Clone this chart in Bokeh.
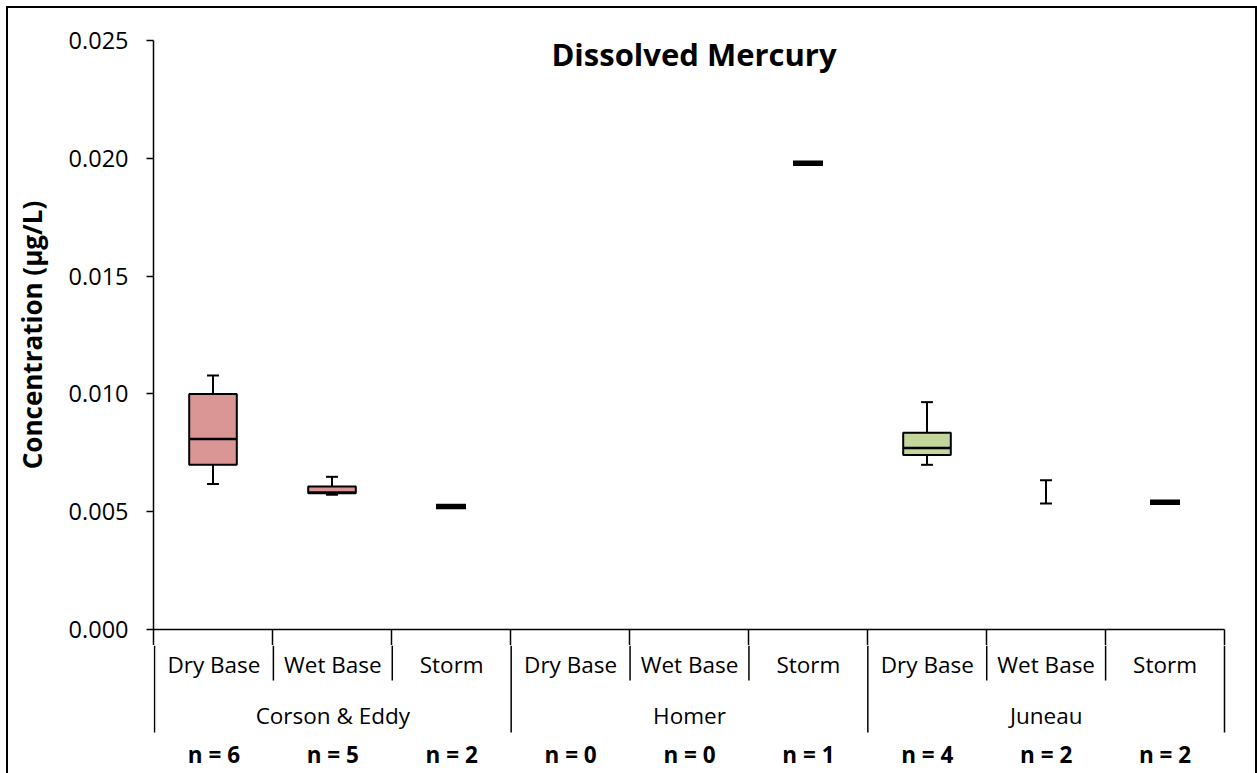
import math
from bokeh.plotting import figure
from bokeh.layouts import column
from bokeh.models import Range1d, FixedTicker, PrintfTickFormatter, LinearAxis, Label
from bokeh.core.properties import value
from bokeh.embed import file_html
from bokeh.resources import INLINE

# ---------------- data ----------------
groups = ["Corson & Eddy", "Homer", "Juneau"]
subcats = ["Dry Base", "Wet Base", "Storm"]
n_counts = [6, 5, 2, 0, 0, 1, 4, 2, 2]

# box statistics per category (None = not shown)
q1 = [0.00699, 0.00578, None, None, None, None, 0.00741, None, None]
median = [0.00809, 0.00582, None, None, None, None, 0.00770, None, None]
q3 = [0.01000, 0.00607, None, None, None, None, 0.00835, None, None]
wmin = [0.00618, 0.00572, None, None, None, None, 0.00699, 0.00535, None]
wmax = [0.01078, 0.00648, None, None, None, None, 0.00965, 0.00634, None]
single = [None, None, 0.00522, None, None, 0.01979, None, None, 0.00540]
box_colors = ["#D99694", "#D99694", None, None, None, None, "#C3D69B", None, None]

y_ticks = [0.0, 0.005, 0.010, 0.015, 0.020, 0.025]
y_max = 0.025

# ---------------- layout constants ----------------
PX_PER_UNIT = 589 / y_max      # vertical scale (pixels per concentration unit)
PX_PER_CAT = 119               # horizontal pixels per category
FONT = "Open Sans"
W = 1247
EXTRA = 16                     # frame pixels below zero and above the top tick

ncat = len(n_counts)
cats = [(g, s) for g in groups for s in subcats]
xc = [i + 0.5 for i in range(ncat)]
x_end = ncat + 2 / PX_PER_CAT
y_start = -EXTRA / PX_PER_UNIT
y_end = y_max + EXTRA / PX_PER_UNIT

# ---------------- main plot (data area) ----------------
p = figure(width=W, height=637, output_backend="svg", toolbar_location=None,
           x_range=Range1d(0, x_end),
           y_range=Range1d(y_start, y_end),
           x_axis_location=None, y_axis_location=None,
           min_border_left=145, min_border_right=29, min_border_top=16, min_border_bottom=0)
p.outline_line_color = None
p.grid.visible = False

yaxis = LinearAxis(ticker=FixedTicker(ticks=y_ticks),
                   formatter=PrintfTickFormatter(format="%.3f"),
                   bounds=(y_start, y_max))
yaxis.axis_line_color = "black"
yaxis.axis_line_width = 1.5
yaxis.major_tick_line_color = "black"
yaxis.major_tick_line_width = 1.5
yaxis.major_tick_out = 7
yaxis.major_tick_in = 0
yaxis.minor_tick_line_color = None
yaxis.major_label_standoff = 18
yaxis.major_label_text_font = FONT
yaxis.major_label_text_font_size = "23.5px"
yaxis.major_label_text_color = "black"
yaxis.axis_label = "Concentration (µg/L)"
yaxis.axis_label_text_font = FONT
yaxis.axis_label_text_font_size = "26px"
yaxis.axis_label_text_font_style = "bold"
yaxis.axis_label_text_color = "black"
yaxis.axis_label_standoff = 16
p.add_layout(yaxis, "left")

# x axis line and the top of the separators
p.segment(x0=[0], y0=[0], x1=[ncat], y1=[0], line_color="black", line_width=1.5)
sep_x = list(range(1, ncat + 1))
p.segment(x0=sep_x, y0=[0] * len(sep_x), x1=sep_x, y1=[y_start] * len(sep_x),
          line_color="black", line_width=1.5)

# boxes
bi = [i for i in range(ncat) if q1[i] is not None]
p.vbar(x=[xc[i] for i in bi], width=0.40, top=[q3[i] for i in bi], bottom=[q1[i] for i in bi],
       fill_color=[box_colors[i] for i in bi], line_color="black", line_width=2)
p.segment(x0=[xc[i] - 0.2 for i in bi], y0=[median[i] for i in bi],
          x1=[xc[i] + 0.2 for i in bi], y1=[median[i] for i in bi],
          line_color="black", line_width=2.5)

# whiskers
wi = [i for i in range(ncat) if wmin[i] is not None]
lo_end = [q1[i] if q1[i] is not None else wmax[i] for i in wi]
hi_start = [q3[i] if q3[i] is not None else wmax[i] for i in wi]
p.segment(x0=[xc[i] for i in wi], y0=[wmin[i] for i in wi],
          x1=[xc[i] for i in wi], y1=lo_end, line_color="black", line_width=2)
p.segment(x0=[xc[i] for i in wi], y0=hi_start,
          x1=[xc[i] for i in wi], y1=[wmax[i] for i in wi], line_color="black", line_width=2)
for arr in (wmin, wmax):
    p.segment(x0=[xc[i] - 0.05 for i in wi], y0=[arr[i] for i in wi],
              x1=[xc[i] + 0.05 for i in wi], y1=[arr[i] for i in wi],
              line_color="black", line_width=2)

# single-value markers
si = [i for i in range(ncat) if single[i] is not None]
p.rect(x=[xc[i] for i in si], y=[single[i] for i in si], width=0.252, height=5.5,
       height_units="screen", fill_color="black", line_color=None)

# chart title
p.add_layout(Label(x=(693.5 - 153) / PX_PER_CAT, y=(629 - 53) / PX_PER_UNIT,
                   text="Dissolved Mercury", text_font=FONT, text_font_size="31px",
                   text_font_style="bold", text_align="center", text_baseline="middle",
                   text_color="black"))

# ---------------- category strip below the axis ----------------
H2 = 128
q = figure(width=W, height=H2, output_backend="svg", toolbar_location=None, title=None,
           x_range=Range1d(-1 / PX_PER_CAT, x_end), y_range=Range1d(H2, 0),
           x_axis_location=None, y_axis_location=None,
           min_border_left=144, min_border_right=29, min_border_top=0, min_border_bottom=0)
q.outline_line_color = None
q.grid.visible = False

grp_x = [0, 3, 6, 9]
q.segment(x0=grp_x, y0=[0] * len(grp_x), x1=grp_x, y1=[87] * len(grp_x),
          line_color="black", line_width=1.5)
sub_x = [1, 2, 4, 5, 7, 8]
q.segment(x0=sub_x, y0=[0] * len(sub_x), x1=sub_x, y1=[35] * len(sub_x),
          line_color="black", line_width=1.5)

q.text(x=xc, y=[19] * ncat, text=[c[1] for c in cats],
       text_font=value(FONT), text_font_size="22.5px", text_align="center",
       text_baseline="middle", text_color="black")
q.text(x=[1.5, 4.5, 7.5], y=[70] * 3, text=groups,
       text_font=value(FONT), text_font_size="22.5px", text_align="center",
       text_baseline="middle", text_color="black")
q.text(x=xc, y=[109] * ncat, text=["n = %d" % n for n in n_counts],
       text_font=value(FONT), text_font_size="22.5px", text_font_style="bold",
       text_align="center", text_baseline="middle", text_color="black")

layout = column(p, q, spacing=0,
                styles={"margin": "8px 0 0 8px",
                        "box-shadow": "-2px 0 0 0 #000, 2px 0 0 0 #000, 0 -2px 0 0 #000, -2px -2px 0 0 #000, 2px -2px 0 0 #000"})

open("out.html", "w").write(file_html(layout, INLINE))
